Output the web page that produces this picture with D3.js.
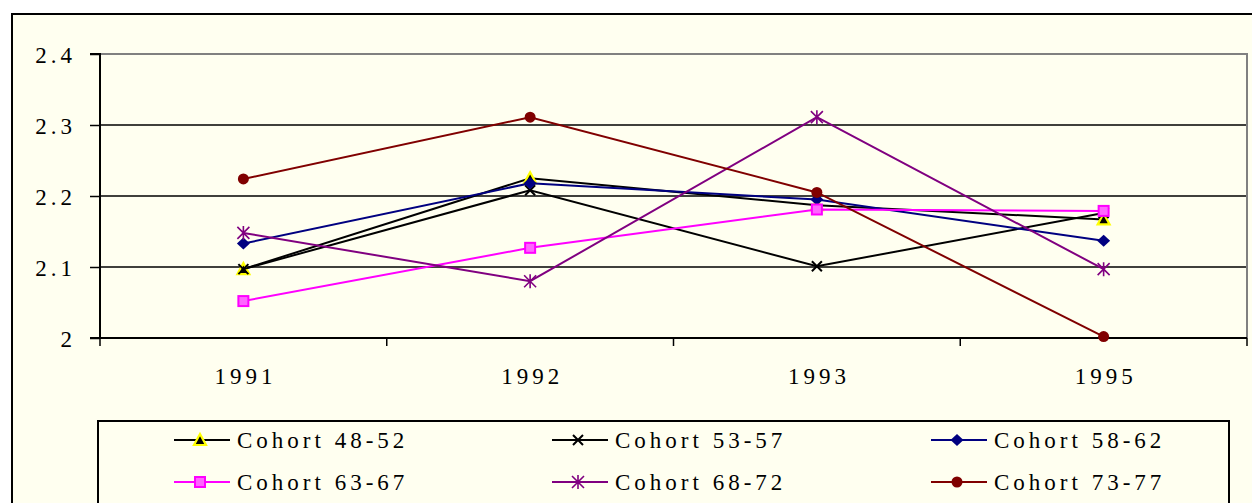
<!DOCTYPE html>
<html lang="en">
<head>
    <meta charset="UTF-8">
    <title>Cohorts</title>
    <style type="text/css">
        * {
            margin: 0;
            padding: 0;
        }

        body {
            background: #fff;
        }
    </style>
</head>
<body>
<div id="chart-area"></div>
<script src="https://cdn.jsdelivr.net/npm/d3@7"></script>
<script type="text/javascript">

  const years = ['1991', '1992', '1993', '1995']
  const yTicks = [2, 2.1, 2.2, 2.3, 2.4]
  const names = ['Cohort 48-52', 'Cohort 53-57', 'Cohort 58-62', 'Cohort 63-67', 'Cohort 68-72', 'Cohort 73-77']

  const c4852 = [2.097, 2.225, 2.187, 2.167]
  const c5357 = [2.097, 2.208, 2.101, 2.176]
  const c5862 = [2.133, 2.218, 2.195, 2.137]
  const c6367 = [2.052, 2.127, 2.181, 2.179]
  const c6872 = [2.148, 2.080, 2.311, 2.097]
  const c7377 = [2.224, 2.311, 2.205, 2.002]

  const series = [c4852, c5357, c5862, c6367, c6872, c7377]
  const colors = ['#000000', '#000000', '#000080', '#ff00ff', '#800080', '#800000']
  const markers = ['triangle', 'x', 'diamond', 'square', 'star', 'circle']

  const W = 1252
  const H = 503
  const FONT = '"Liberation Serif", "Times New Roman", Times, serif'

  const svg = d3.select('#chart-area').append('svg')
      .attr('width', W)
      .attr('height', H)

  // outer chart frame (runs off the right / bottom edge)
  svg.append('rect')
      .attr('x', 12)
      .attr('y', 14)
      .attr('width', W + 20)
      .attr('height', H + 20)
      .attr('fill', '#fffff0')
      .attr('stroke', '#000')
      .attr('stroke-width', 2)

  const pLeft = 100, pRight = 1247, pTop = 54, pBottom = 338

  const x = d3.scaleBand().domain(years).range([pLeft, pRight])
  const y = d3.scaleLinear().domain([2, 2.4]).range([pBottom, pTop])

  function styleText(sel) {
    sel.attr('font-family', FONT)
        .attr('font-size', 23)
        .attr('letter-spacing', 4)
        .attr('fill', '#000')
  }

  // gridlines
  svg.append('g')
      .selectAll('line')
      .data(yTicks.slice(1, -1))
      .enter()
      .append('line')
      .attr('x1', pLeft)
      .attr('x2', pRight)
      .attr('y1', d => y(d))
      .attr('y2', d => y(d))
      .attr('stroke', '#000')
      .attr('stroke-width', 1.3)

  // plot border top / right (grey)
  svg.append('path')
      .attr('d', `M${pLeft},${y(2.4)}H${pRight}V${pBottom}`)
      .attr('fill', 'none')
      .attr('stroke', '#808080')
      .attr('stroke-width', 2)

  // y axis
  const yAxis = svg.append('g')
      .attr('transform', `translate(${pLeft},0)`)
      .call(d3.axisLeft(y).tickValues(yTicks).tickSize(10).tickFormat(d => d === 2 ? '2' : d3.format('.1f')(d)).tickPadding(14))
  yAxis.select('.domain').attr('stroke-width', 2).attr('d', `M-10,${pTop}H0V${pBottom}H-10`)
  yAxis.selectAll('.tick line').attr('stroke-width', 1.5)
  yAxis.selectAll('text').call(styleText).attr('dy', '0.35em')

  // x axis with ticks on category boundaries
  const xg = svg.append('g')
      .attr('transform', `translate(0,${pBottom})`)
  xg.append('line')
      .attr('x1', pLeft)
      .attr('x2', pRight)
      .attr('stroke', '#000')
      .attr('stroke-width', 2)
  xg.selectAll('.bt')
      .data(years.map(d => x(d)).concat([pRight]))
      .enter()
      .append('line')
      .attr('x1', d => d)
      .attr('x2', d => d)
      .attr('y1', 0)
      .attr('y2', 8)
      .attr('stroke', '#000')
      .attr('stroke-width', 1.5)
  xg.selectAll('.lbl')
      .data(years)
      .enter()
      .append('text')
      .attr('x', d => x(d) + x.bandwidth() / 2 + 2)
      .attr('y', 46)
      .attr('text-anchor', 'middle')
      .call(styleText)
      .text(d => d)

  function drawMarker(g, type, color) {
    if (type === 'triangle') {
      g.append('path').attr('d', 'M0,-6L6,5H-6Z')
          .attr('fill', '#000').attr('stroke', '#ffff00').attr('stroke-width', 2.2)
    } else if (type === 'x') {
      g.append('path').attr('d', 'M-5,-5L5,5M-5,5L5,-5')
          .attr('stroke', color).attr('stroke-width', 2)
    } else if (type === 'diamond') {
      g.append('path').attr('d', 'M0,-6L6.5,0L0,6L-6.5,0Z')
          .attr('fill', color)
    } else if (type === 'square') {
      g.append('rect').attr('x', -5).attr('y', -5).attr('width', 10).attr('height', 10)
          .attr('fill', '#ff66ff').attr('stroke', color).attr('stroke-width', 2)
    } else if (type === 'star') {
      g.append('path').attr('d', 'M-6,-6L6,6M-6,6L6,-6M0,-7V7')
          .attr('stroke', color).attr('stroke-width', 1.6)
    } else {
      g.append('circle').attr('r', 5.5).attr('fill', color)
    }
  }

  const line = d3.line()
      .x((d, i) => x(years[i]) + x.bandwidth() / 2)
      .y(d => y(d))

  series.forEach((s, k) => {
    svg.append('path')
        .attr('d', line(s))
        .attr('fill', 'none')
        .attr('stroke', colors[k])
        .attr('stroke-width', 2)
    s.forEach((v, i) => {
      const g = svg.append('g')
          .attr('transform', `translate(${x(years[i]) + x.bandwidth() / 2},${y(v)})`)
      drawMarker(g, markers[k], colors[k])
    })
  })

  // legend
  const legend = svg.append('g')
  legend.append('rect')
      .attr('x', 98)
      .attr('y', 421)
      .attr('width', 1131)
      .attr('height', 120)
      .attr('fill', 'none')
      .attr('stroke', '#000')
      .attr('stroke-width', 2)

  const colX = [174, 552, 931]
  const rowY = [440, 482]

  names.forEach((n, k) => {
    const lx = colX[k % 3]
    const ly = rowY[Math.floor(k / 3)]
    legend.append('line')
        .attr('x1', lx)
        .attr('x2', lx + 56)
        .attr('y1', ly)
        .attr('y2', ly)
        .attr('stroke', colors[k])
        .attr('stroke-width', 2)
    const g = legend.append('g').attr('transform', `translate(${lx + 26},${ly})`)
    drawMarker(g, markers[k], colors[k])
    legend.append('text')
        .attr('x', lx + 63)
        .attr('y', ly)
        .attr('dy', '0.35em')
        .call(styleText)
        .text(n)
  })

</script>
</body>
</html>
